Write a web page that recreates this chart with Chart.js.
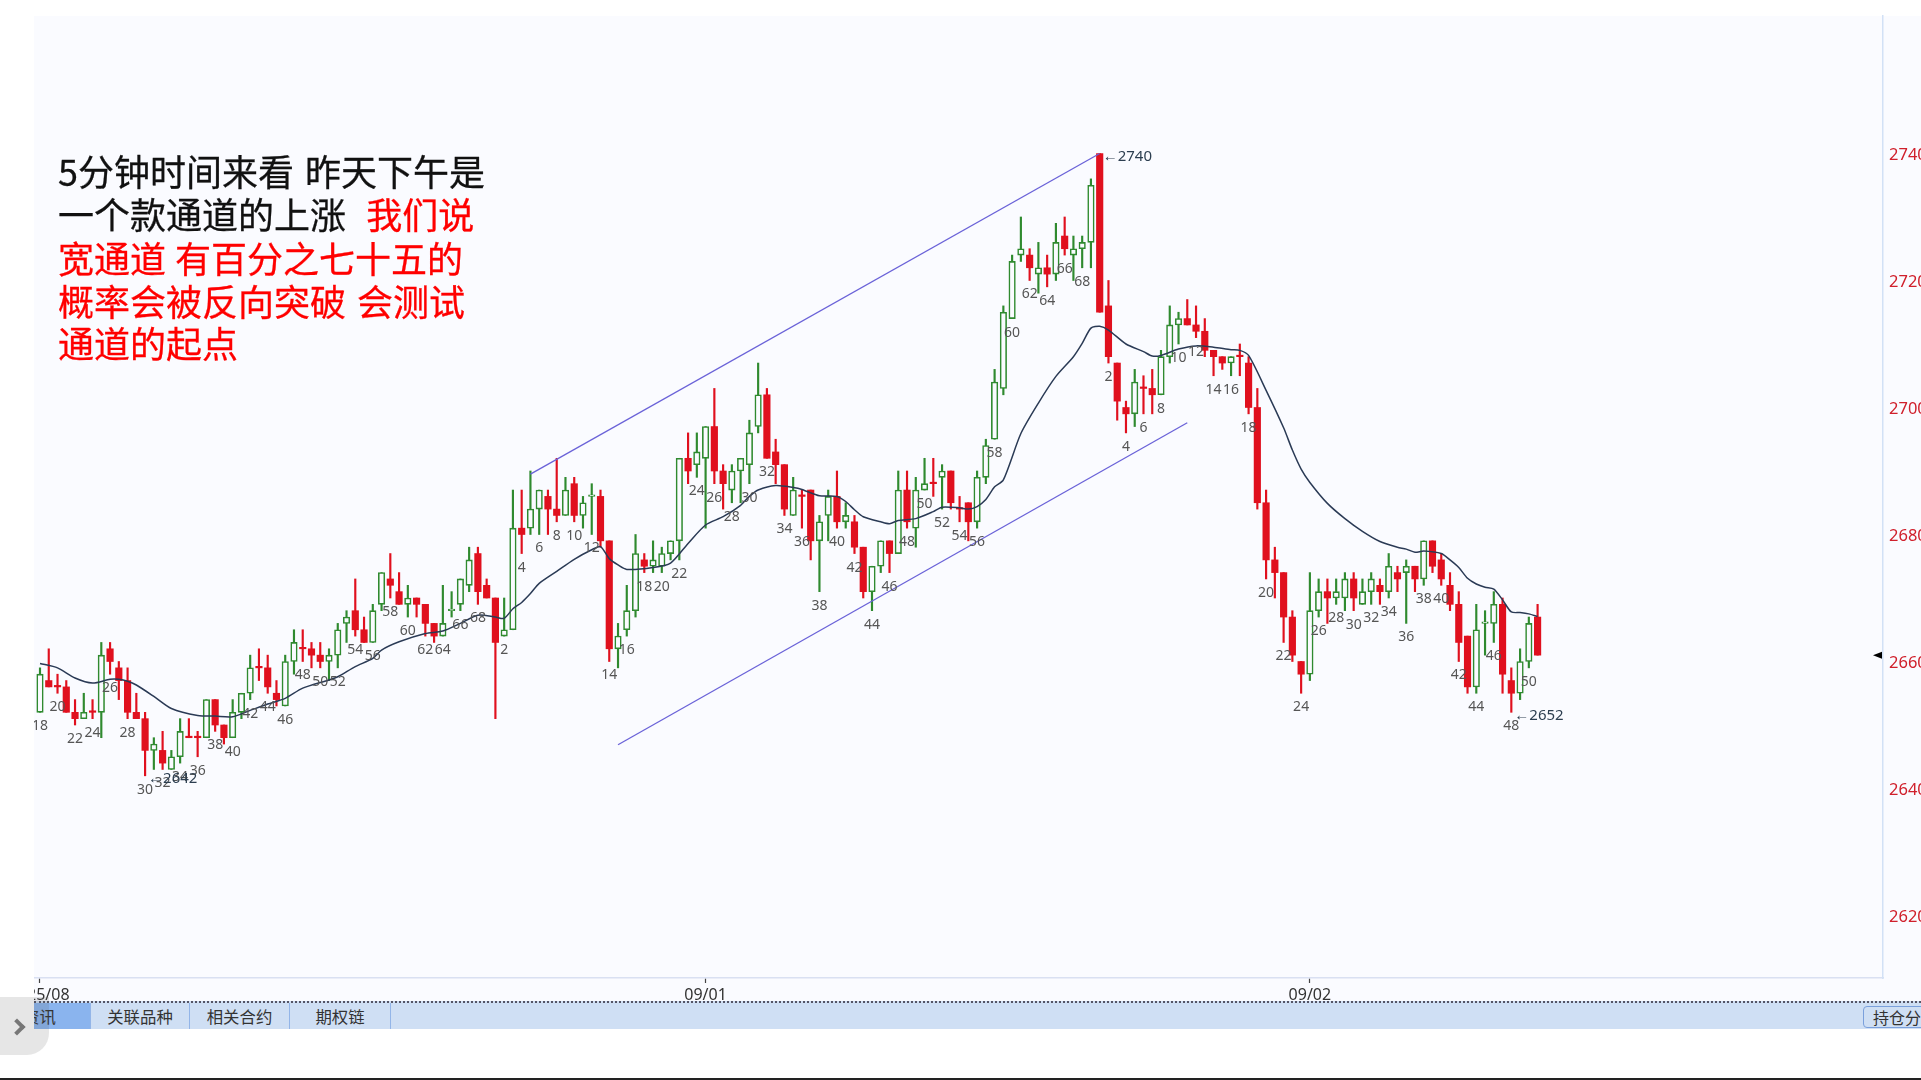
<!DOCTYPE html>
<html>
<head>
<meta charset="utf-8">
<title>5分钟K线</title>
<script src="https://cdn.jsdelivr.net/npm/chart.js@4/dist/chart.umd.min.js"></script>
<style>
  html, body { margin: 0; padding: 0; background: #fff; overflow: hidden; }
  #stage { position: relative; width: 1921px; height: 1080px; overflow: hidden; background: #fff; font-family: "Noto Sans CJK SC", sans-serif; }
  #panel { position: absolute; left: 34px; top: 16px; width: 1887px; height: 986px; background: #fafbff; }
  canvas { position: absolute; left: 0; top: 0; }
  #leftStrip { position: absolute; left: 0; top: 0; width: 34px; height: 1080px; background: #fff; }
  .note { position: absolute; left: 58px; font-size: 36px; line-height: 44px; height: 44px; white-space: pre; color: #111; word-spacing: 3px; -webkit-text-stroke: 0.3px currentColor; }
  .red { color: #f00; }
  #tabs { position: absolute; left: 34px; top: 1001px; width: 1887px; height: 28px; background: #cfdff4; border-top: 2px dotted #556; box-sizing: border-box; overflow: hidden; }
  .tab { position: absolute; top: 0; height: 26px; line-height: 27px; text-align: center; font-size: 16.4px; color: #333; border-right: 1px solid #93b5e8; box-sizing: border-box; }
  #hold { position: absolute; left: 1829px; top: 3px; width: 90px; height: 22px; line-height: 20px; padding-left: 9px; font-size: 16px; color: #333; border: 1px solid #7aa0dc; border-radius: 4px; box-sizing: border-box; white-space: nowrap; overflow: hidden; }
  #handle { position: absolute; left: 0; top: 997px; width: 49px; height: 58px; background: rgba(90,90,90,0.15); border-radius: 0 0 22px 0; }
  #handle i { position: absolute; left: 11px; top: 24px; width: 8px; height: 8px; border-top: 4px solid #777; border-right: 4px solid #777; transform: rotate(45deg); }
  #baseLine { position: absolute; left: 0; top: 1078px; width: 1921px; height: 2px; background: #222; }
</style>
</head>
<body>
<div id="stage">
  <div id="panel"></div>
  <canvas id="kline" width="1921" height="1080"></canvas>
  <div id="leftStrip"></div>
  <div class="note" style="top:148px">5分钟时间来看 昨天下午是</div>
  <div class="note" style="top:191px">一个款通道的上涨  <span class="red" style="margin-left:-2px">我们说</span></div>
  <div class="note red" style="top:235px;word-spacing:1px">宽通道 有百分之七十五的</div>
  <div class="note red" style="top:278px">概率会被反向突破 会测试</div>
  <div class="note red" style="top:320px">通道的起点</div>
  <div id="tabs">
    <div class="tab" style="left:0;width:57px;background:#8ab4ee;text-align:left;text-indent:-11px;">资讯</div>
    <div class="tab" style="left:57px;width:99px">关联品种</div>
    <div class="tab" style="left:156px;width:100px">相关合约</div>
    <div class="tab" style="left:256px;width:101px">期权链</div>
    <div id="hold">持仓分析</div>
  </div>
  <div id="handle"><i></i></div>
  <div id="baseLine"></div>
</div>
<script>
const opens = [
  2652,2657,2656,2656,2652,2651,2652,2652,2662,2659,2657,2652,2651,2646,2646,2643,2645,2648,2648,2648,
  2654,2650,2648,2652,2655,2659,2659,2655,2653,2660,2662,2662,2661,2660,2661,2666,2668,2665,2663,2669,
  2673,2671,2669,2670,2669,2666,2664,2668,2669,2672,2677,2672,2670,2664,2665,2681,2681,2684,2686,2684,
  2683,2688,2683,2686,2686,2679,2662,2665,2668,2676,2675,2675,2677,2679,2692,2691,2692,2697,2690,2687,
  2690,2691,2697,2702,2693,2691,2683,2686,2687,2679,2683,2686,2682,2682,2678,2671,2675,2679,2677,2687,
  2681,2687,2688,2689,2690,2684,2685,2682,2689,2695,2703,2714,2724,2724,2721,2722,2721,2727,2724,2725,
  2726,2740,2716,2707,2700,2699,2703,2703,2702,2708,2713,2714,2713,2712,2709,2708,2707,2708,2707,2700,
  2685,2676,2674,2667,2660,2658,2668,2671,2670,2670,2673,2669,2671,2672,2671,2674,2674,2675,2673,2679,
  2676,2672,2669,2664,2656,2666,2666,2669,2657,2655,2660,2667
];
const closes = [
  2658,2656,2656,2652,2651,2652,2652,2661,2660,2657,2652,2651,2646,2647,2644,2645,2649,2648,2648,2654,
  2650,2648,2652,2655,2659,2659,2656,2654,2660,2663,2662,2661,2660,2661,2665,2667,2665,2663,2668,2674,
  2672,2669,2670,2669,2666,2664,2666,2668,2673,2676,2671,2670,2663,2665,2681,2680,2684,2687,2684,2683,
  2687,2683,2685,2686,2679,2662,2664,2668,2677,2675,2676,2677,2679,2692,2690,2693,2697,2690,2688,2690,
  2692,2696,2702,2692,2691,2684,2687,2686,2679,2682,2686,2682,2683,2678,2671,2675,2679,2677,2687,2682,
  2687,2688,2688,2690,2685,2684,2682,2689,2694,2704,2715,2723,2725,2722,2722,2721,2726,2725,2725,2726,
  2735,2715,2708,2701,2699,2704,2703,2702,2708,2713,2714,2713,2712,2709,2708,2707,2708,2708,2700,2685,
  2676,2674,2667,2661,2658,2668,2671,2670,2671,2673,2670,2671,2673,2671,2675,2673,2675,2673,2679,2675,
  2673,2669,2663,2656,2665,2666,2669,2658,2655,2660,2666,2661
];
const highs = [
  2659,2662,2658,2657,2654,2655,2654,2663,2663,2660,2659,2655,2652,2648,2649,2646,2651,2651,2649,2654,
  2654,2650,2654,2655,2661,2662,2661,2657,2661,2665,2665,2663,2663,2662,2666,2668,2673,2667,2669,2674,
  2677,2674,2672,2670,2669,2666,2672,2671,2673,2678,2678,2673,2670,2670,2687,2687,2690,2687,2687,2692,
  2689,2689,2686,2688,2687,2679,2666,2672,2680,2677,2679,2678,2679,2692,2696,2696,2697,2703,2691,2691,
  2692,2698,2707,2703,2695,2691,2689,2687,2687,2683,2687,2690,2685,2683,2678,2675,2679,2679,2690,2690,
  2689,2692,2692,2691,2690,2686,2685,2690,2695,2706,2716,2724,2730,2725,2726,2724,2729,2730,2727,2727,
  2736,2740,2720,2707,2701,2706,2705,2706,2709,2716,2715,2717,2716,2714,2709,2708,2708,2710,2708,2703,
  2687,2678,2674,2668,2660,2674,2673,2673,2673,2674,2674,2673,2674,2673,2677,2675,2676,2675,2679,2679,
  2677,2674,2671,2664,2669,2668,2671,2670,2659,2662,2667,2669
];
const lows = [
  2652,2656,2655,2652,2650,2651,2651,2648,2658,2654,2651,2651,2642,2643,2643,2643,2644,2648,2645,2648,
  2649,2647,2648,2651,2654,2657,2655,2653,2653,2658,2660,2659,2659,2657,2659,2663,2664,2663,2663,2668,
  2670,2669,2667,2667,2664,2663,2664,2667,2668,2671,2669,2670,2651,2664,2665,2677,2680,2680,2680,2682,
  2683,2682,2681,2680,2678,2660,2659,2664,2667,2674,2674,2674,2676,2676,2688,2689,2681,2688,2684,2685,
  2685,2688,2696,2692,2688,2683,2683,2681,2676,2671,2679,2681,2681,2677,2670,2668,2674,2674,2677,2681,
  2678,2687,2686,2684,2684,2682,2679,2681,2688,2695,2702,2714,2723,2720,2718,2719,2720,2724,2720,2722,
  2722,2715,2707,2698,2696,2697,2699,2699,2702,2707,2710,2713,2711,2708,2705,2706,2705,2705,2699,2684,
  2673,2670,2663,2660,2655,2657,2667,2666,2669,2668,2668,2669,2669,2669,2670,2671,2666,2671,2672,2674,
  2672,2668,2660,2655,2655,2661,2663,2655,2652,2654,2659,2661
];
// doji bars drawn in the up colour
const upDojis = [47, 63, 165];

// bar numbers printed under the bars: first session index, then the number
const barNoIndex = [
  0,2,4,6,8,10,12,14,16,18,20,22,24,26,28,30,32,34,36,38,40,42,44,46,48,50,
  53,55,57,59,61,63,65,67,69,71,73,75,77,79,81,83,85,87,89,91,93,95,97,99,101,103,105,107,109,111,113,115,117,119,
  122,124,126,128,130,132,134,136,138,140,142,144,146,148,150,152,154,156,158,160,162,164,166,168,170
];
const barNoText = [
  18,20,22,24,26,28,30,32,34,36,38,40,42,44,46,48,50,52,54,56,58,60,62,64,66,68,
  2,4,6,8,10,12,14,16,18,20,22,24,26,28,30,32,34,36,38,40,42,44,46,48,50,52,54,56,58,60,62,64,66,68,
  2,4,6,8,10,12,14,16,18,20,22,24,26,28,30,32,34,36,38,40,42,44,46,48,50
];

// moving average line, read at these bars
const maIndex = [
  0,2,4,6,8,9,10,11,13,15,18,20,22,24,26,28,30,33,34,36,38,39,41,44,46,48,50,52,53,54,55,56,57,59,61,63,64,65,66,67,
  70,72,74,76,78,80,81,82,84,86,87,89,91,92,93,94,96,97,98,100,102,103,105,106,107,108,109,110,112,114,116,118,119,120,121,122,
  124,126,127,128,130,132,134,136,137,138,140,142,143,144,145,147,149,151,153,155,156,157,158,160,161,162,163,164,165,166,167,168,169,170,171
];
const maValues = [
  2659.7,2659,2657.4,2656.6,2657.2,2657.2,2656.9,2656.3,2654.5,2652.6,2651.5,2651.4,2651.3,2652.3,2653.3,2654.2,2655.8,2657.1,2657.6,2659.2,2660.5,2661.8,2663.1,2664.4,2664.8,2666,2667.3,2667,2666.8,2668.3,2669.3,2670.7,2672.3,2674.2,2676.1,2677.6,2678.1,2676.2,2675.2,2674.5,
  2674.8,2675.5,2678.6,2681.5,2682.8,2684.6,2686,2687,2687.7,2687.4,2687.1,2686.1,2686,2685.2,2683.9,2682.8,2682,2681.7,2682.2,2682.5,2683.6,2684.3,2684.2,2684,2684.4,2685.5,2687.5,2688.6,2695.9,2700.7,2704.9,2708,2710.1,2712.5,2712.8,2712.2,
  2710,2708.8,2708.1,2708.2,2709.2,2709.7,2709.5,2709.1,2709,2708.2,2702.7,2696.8,2693.3,2690.3,2688.2,2684.9,2682.5,2680.5,2678.9,2678,2677.7,2677.2,2677.4,2677,2676,2674.8,2673.1,2672.2,2671.7,2671.4,2669.7,2667.8,2667.7,2667.5,2667.1
];

// hand drawn channel
const upperChannelX = [56, 121];
const upperChannelY = [2689.5, 2740];
const lowerChannelX = [66, 131];
const lowerChannelY = [2646.9, 2697.6];

const priceTicks = [2620, 2640, 2660, 2680, 2700, 2720, 2740];
const dateTickIndex = [0, 76, 145];
const dateTickText = ['    25/08', '09/01', '09/02'];

// extreme price marks
const extremeIndex = [12, 121, 168];
const extremeValue = [2642, 2740, 2652];

const isUp = i => closes[i] > opens[i] || upDojis.includes(i);
const bars = opens.map((o, i) => i);
const GREEN = '#2f8a2f';
const RED = '#e0101e';

const barLabels = {
  id: 'barLabels',
  afterDatasetsDraw(chart) {
    const { ctx, scales: { x, y } } = chart;
    ctx.save();
    ctx.textAlign = 'center';
    ctx.textBaseline = 'middle';
    ctx.font = '14px "Noto Sans", sans-serif';
    ctx.fillStyle = '#555';
    barNoIndex.forEach((idx, n) => {
      ctx.fillText(barNoText[n], x.getPixelForValue(idx), y.getPixelForValue(lows[idx]) + 14);
    });
    ctx.textAlign = 'left';
    ctx.font = '15px "Noto Sans", sans-serif';
    ctx.fillStyle = '#2c3e50';
    extremeIndex.forEach((idx, n) => {
      ctx.fillText('←' + extremeValue[n], x.getPixelForValue(idx) + 3, y.getPixelForValue(extremeValue[n]) + 3);
    });
    // last price marker on the right edge
    const ly = y.getPixelForValue(closes[closes.length - 1]);
    ctx.fillStyle = '#000';
    ctx.beginPath();
    ctx.moveTo(chart.chartArea.right - 10, ly);
    ctx.lineTo(chart.chartArea.right - 1, ly - 3.5);
    ctx.lineTo(chart.chartArea.right - 1, ly + 3.5);
    ctx.closePath();
    ctx.fill();
    ctx.restore();
  }
};

new Chart(document.getElementById('kline'), {
  type: 'bar',
  plugins: [barLabels],
  data: {
    datasets: [
      {
        label: 'MA',
        type: 'line',
        data: maIndex.map((x, i) => ({ x, y: maValues[i] })),
        borderColor: '#2a3a55',
        borderWidth: 1.5,
        pointRadius: 0,
        tension: 0.25,
        order: 0
      },
      {
        label: 'upper channel',
        type: 'line',
        data: upperChannelX.map((x, i) => ({ x, y: upperChannelY[i] })),
        borderColor: '#6a62d8',
        borderWidth: 1.3,
        pointRadius: 0,
        order: 1
      },
      {
        label: 'lower channel',
        type: 'line',
        data: lowerChannelX.map((x, i) => ({ x, y: lowerChannelY[i] })),
        borderColor: '#6a62d8',
        borderWidth: 1.3,
        pointRadius: 0,
        order: 1
      },
      {
        label: 'up bodies',
        data: bars.filter(isUp).map(i => ({ x: i, y: [opens[i], closes[i]] })),
        backgroundColor: '#fafbff',
        borderColor: GREEN,
        borderWidth: 1.6,
        borderSkipped: false,
        barThickness: 6.5,
        minBarLength: 1.5,
        grouped: false,
        order: 2
      },
      {
        label: 'down bodies',
        data: bars.filter(i => !isUp(i)).map(i => ({ x: i, y: [opens[i], closes[i]] })),
        backgroundColor: RED,
        borderWidth: 0,
        barThickness: 6.5,
        minBarLength: 1.5,
        grouped: false,
        order: 2
      },
      {
        label: 'wicks',
        data: bars.map(i => ({ x: i, y: [lows[i], highs[i]] })),
        backgroundColor: ctx => isUp(ctx.parsed ? ctx.parsed.x : ctx.dataIndex) ? GREEN : RED,
        borderWidth: 0,
        barThickness: 1.5,
        grouped: false,
        order: 3
      }
    ]
  },
  options: {
    responsive: false,
    devicePixelRatio: 1,
    animation: false,
    layout: { padding: { left: 34, top: 16, right: 0, bottom: 0 } },
    plugins: { legend: { display: false }, tooltip: { enabled: false } },
    scales: {
      x: {
        type: 'linear',
        offset: false,
        min: -0.685,
        max: 210.44,
        afterFit: s => { s.height = 102; },
        afterBuildTicks: s => { s.ticks = dateTickIndex.map(value => ({ value })); },
        grid: { display: true, offset: false, drawOnChartArea: false, drawTicks: true, tickLength: 5, tickColor: '#444', tickWidth: 1.2 },
        border: { color: '#d9e0f2', width: 1.5 },
        ticks: {
          autoSkip: false,
          maxRotation: 0,
          padding: 3,
          color: '#333',
          font: { family: '"Noto Sans", sans-serif', size: 16 },
          callback: value => dateTickText[dateTickIndex.indexOf(value)]
        }
      },
      y: {
        position: 'right',
        min: 2610.16,
        max: 2761.65,
        afterFit: s => { s.width = 38; },
        afterBuildTicks: s => { s.ticks = priceTicks.map(value => ({ value })); },
        grid: { display: true, drawOnChartArea: false, drawTicks: false },
        border: { color: '#d2e1f6', width: 1.5 },
        ticks: {
          autoSkip: false,
          padding: 6,
          labelOffset: 2,
          color: '#d0202c',
          font: { family: '"Noto Sans", sans-serif', size: 16.5 },
          callback: value => String(value)
        }
      }
    }
  }
});
</script>
</body>
</html>
